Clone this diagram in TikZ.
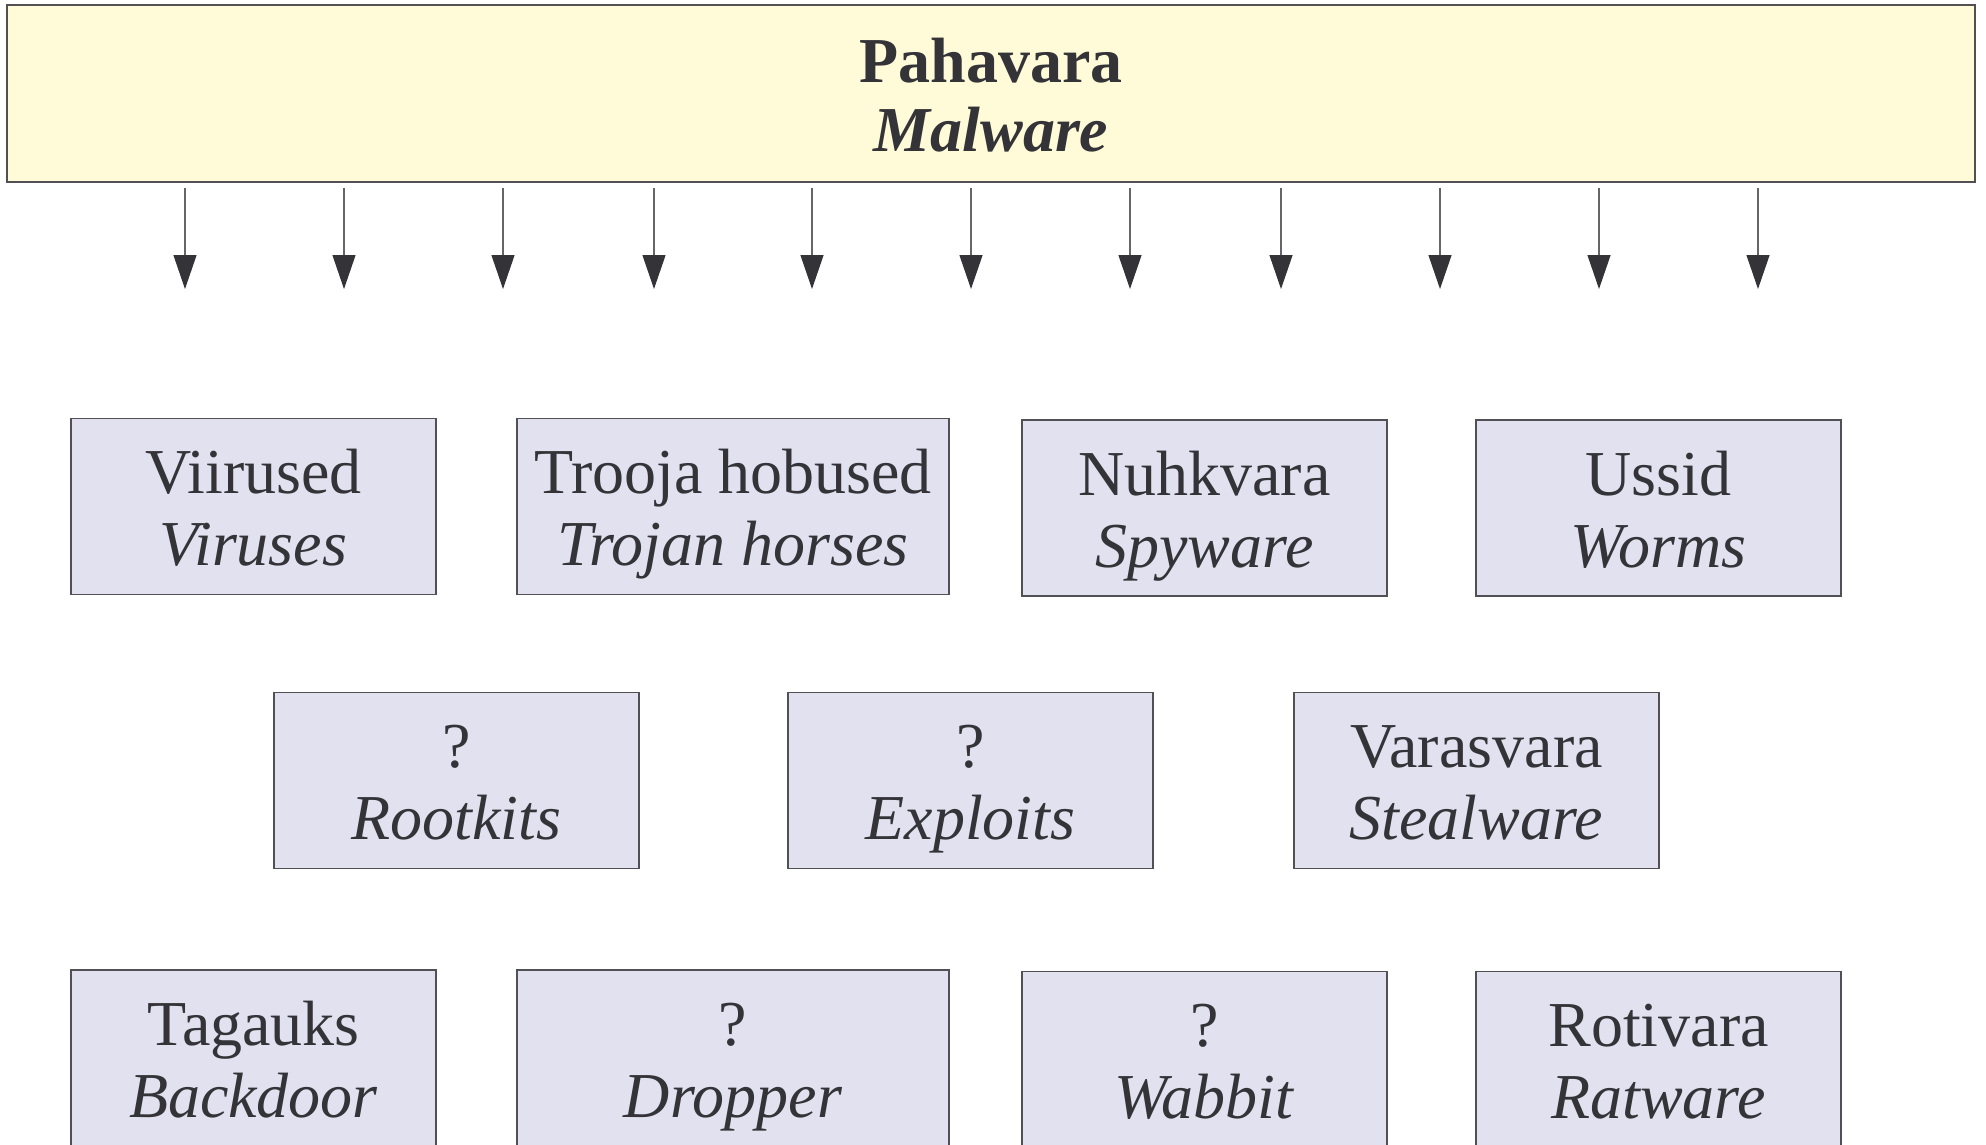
\documentclass[tikz,border=0pt]{standalone}
\usepackage{fontspec}
\setmainfont{Liberation Serif}
\usepackage{xcolor}
\usepackage{tikz}
\usetikzlibrary{arrows.meta}
\definecolor{topfill}{HTML}{FFFAD7}
\definecolor{boxfill}{HTML}{E1E1EF}
\definecolor{ink}{HTML}{333338}
\definecolor{edge}{HTML}{505055}

\begin{document}
\begin{tikzpicture}[x=0.5pt,y=-0.5pt,
    kind/.style={draw=edge,fill=boxfill,line width=0.6pt,minimum height=88pt,
        inner sep=0pt,align=center,text=ink,text height=69pt,text depth=10pt,
        font=\fontsize{32}{36}\selectfont},
    narrowbox/.style={kind,minimum width=182.5pt},
    widebox/.style={kind,minimum width=216pt},
    down/.style={draw=ink!75,line width=0.6pt,shorten <=2.5pt,
        -{Triangle[length=17pt,width=11.5pt,fill=ink,color=ink]}}]
\useasboundingbox (0,0) rectangle (1986,1145);

\node[draw=edge,fill=topfill,line width=0.6pt,minimum width=984pt,minimum height=88.5pt,
    inner sep=0pt,align=center,text=ink,text height=68.5pt,text depth=10pt,
    font=\fontsize{32}{35}\selectfont\bfseries] at (991,93.5) (malware)
    {Pahavara\\\textit{Malware}};

% arrows out of the top box
\foreach \x [count=\i] in {185,344,503,654,812,971,1130,1281,1440,1599,1758}{
    \coordinate (tip\i) at (\x,289);
    \draw[down] (malware.south -| tip\i) -- (tip\i);
}

% first row
\node[narrowbox] at (253.5,506.5) (viirus) {Viirused\\\textit{Viruses}};
\node[widebox] at (733,506.5) (trooja) {Trooja hobused\\\textit{Trojan horses}};
\node[narrowbox] at (1204.5,508) (nuhk) {Nuhkvara\\\textit{Spyware}};
\node[narrowbox] at (1658.5,508) (ussid) {Ussid\\\textit{Worms}};

% second row
\node[narrowbox] at (456.5,780.5) (rootkit) {?\\\textit{Rootkits}};
\node[narrowbox] at (970.5,780.5) (exploit) {?\\\textit{Exploits}};
\node[narrowbox] at (1476.5,780.5) (varas) {Varasvara\\\textit{Stealware}};

% third row
\node[narrowbox] at (253.5,1058) (tagauks) {Tagauks\\\textit{Backdoor}};
\node[widebox] at (733,1058) (dropper) {?\\\textit{Dropper}};
\node[narrowbox] at (1204.5,1059.5) (wabbit) {?\\\textit{Wabbit}};
\node[narrowbox] at (1658.5,1059.5) (roti) {Rotivara\\\textit{Ratware}};
\end{tikzpicture}
\end{document}
